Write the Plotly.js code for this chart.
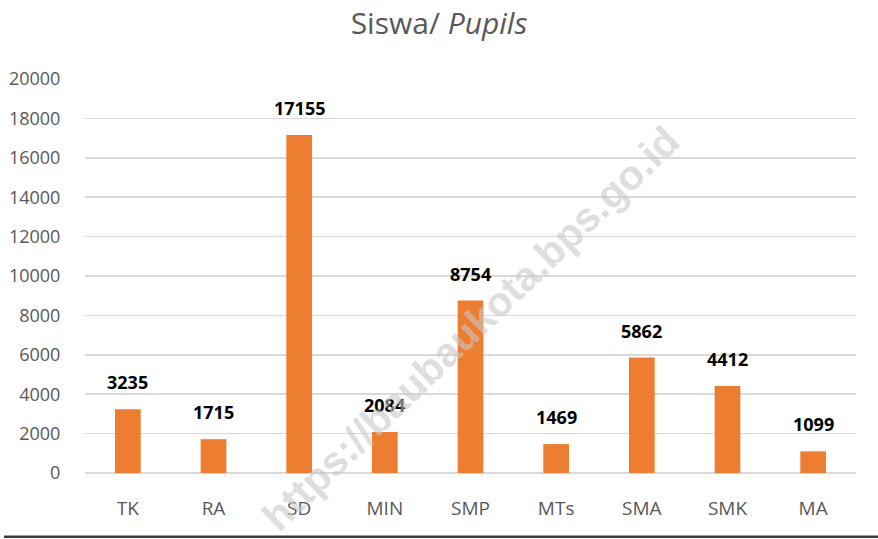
<!DOCTYPE html>
<html>
<head>
<meta charset="utf-8">
<script src="https://cdn.plot.ly/plotly-3.0.1.min.js"></script>
<style>html,body{margin:0;padding:0;background:#fff;}#chart{width:878px;height:539px;}</style>
</head>
<body>
<div id="chart"></div>
<script>
const categories = ["TK", "RA", "SD", "MIN", "SMP", "MTs", "SMA", "SMK", "MA"];
const pupils = [3235, 1715, 17155, 2084, 8754, 1469, 5862, 4412, 1099];
const yTicks = [0, 2000, 4000, 6000, 8000, 10000, 12000, 14000, 16000, 18000, 20000];

const labelFont = {family: "Open Sans, Noto Sans, sans-serif", size: 18, color: "#000"};

const annotations = categories.map((c, i) => ({
  x: c, y: pupils[i], xref: "x", yref: "y",
  text: "<b>" + pupils[i] + "</b>",
  showarrow: false, yanchor: "bottom", yshift: 13,
  font: labelFont
}));

annotations.push({
  xref: "paper", yref: "paper", x: 0.5, y: 0.365,
  text: "<b>https://baubaukota.bps.go.id</b>",
  showarrow: false, textangle: -44,
  font: {family: "Liberation Sans, Arial, sans-serif", size: 41, color: "rgba(200,200,200,0.6)"}
});

const trace = {
  type: "bar",
  x: categories,
  y: pupils,
  marker: {color: "#ED7D31"},
  width: 0.3,
  hoverinfo: "x+y"
};

const layout = {
  width: 878, height: 539,
  margin: {l: 85, r: 22, t: 79, b: 66},
  paper_bgcolor: "#fff", plot_bgcolor: "#fff",
  showlegend: false,
  title: {
    text: "Siswa/ <i>Pupils</i>",
    font: {family: "Open Sans, Noto Sans, sans-serif", size: 30, color: "#595959"},
    x: 0.5, xanchor: "center", y: 0.957, yanchor: "middle"
  },
  xaxis: {
    type: "category",
    showgrid: false, zeroline: false, showline: false,
    ticks: "outside", ticklen: 18, tickcolor: "rgba(0,0,0,0)",
    tickfont: {family: "Open Sans, Noto Sans, sans-serif", size: 19, color: "#595959"}
  },
  yaxis: {
    range: [0, 20000],
    tickvals: yTicks,
    ticktext: yTicks.map(String),
    showgrid: true, gridcolor: "#d9d9d9", gridwidth: 1.5,
    zeroline: true, zerolinecolor: "#d9d9d9", zerolinewidth: 1.5,
    showline: false,
    ticks: "outside", ticklen: 20, tickcolor: "rgba(0,0,0,0)",
    tickfont: {family: "Open Sans, Noto Sans, sans-serif", size: 18, color: "#595959"}
  },
  annotations: annotations,
  shapes: [{
    type: "line", xref: "paper", yref: "paper",
    x0: -0.105, x1: 1.1, y0: -0.162, y1: -0.162,
    line: {color: "#3a3a3a", width: 2.5}
  }]
};

Plotly.newPlot("chart", [trace], layout, {displayModeBar: false, staticPlot: true});
</script>
</body>
</html>
